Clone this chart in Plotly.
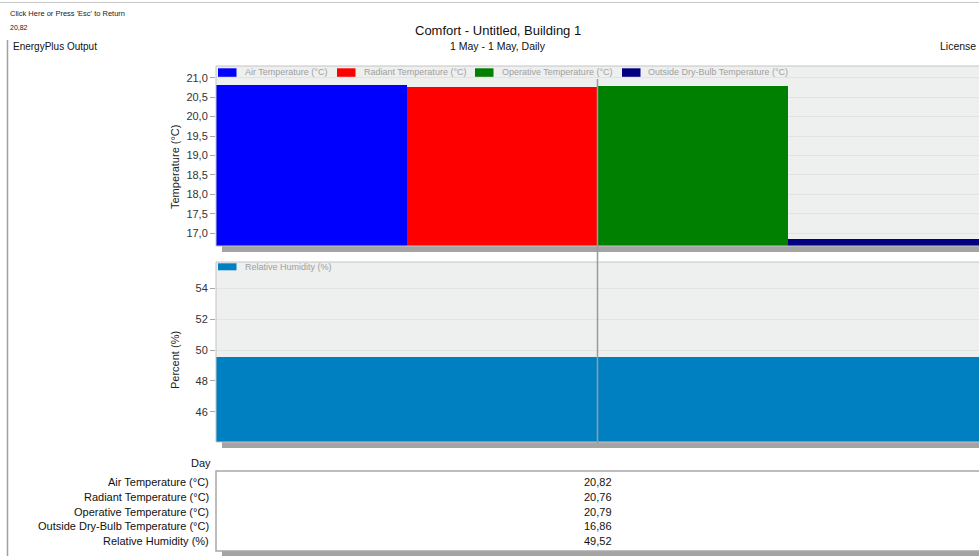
import plotly.graph_objects as go

# ---- data ----
day = ["1 May"]
temp_series = ["Air Temperature (°C)", "Radiant Temperature (°C)",
               "Operative Temperature (°C)", "Outside Dry-Bulb Temperature (°C)"]
temp_values = [20.82, 20.76, 20.79, 16.86]
temp_colors = ["#0000FF", "#FF0000", "#008000", "#000080"]
rh_series = "Relative Humidity (%)"
rh_values = [49.52]
rh_color = "#0080C0"
temp_ticks = [17.0, 17.5, 18.0, 18.5, 19.0, 19.5, 20.0, 20.5, 21.0]
rh_ticks = [46, 48, 50, 52, 54]

W, H = 979, 556
FONT = "Liberation Sans, Arial, sans-serif"


def fx(x):
    return x / W


def fy(y):
    return 1 - y / H


fig = go.Figure()

for name, val, col in zip(temp_series, temp_values, temp_colors):
    fig.add_trace(go.Bar(x=day, y=[val], name=name, marker=dict(color=col, line=dict(width=0)),
                         xaxis="x", yaxis="y", showlegend=False))

fig.add_trace(go.Bar(x=day, y=rh_values, name=rh_series, marker=dict(color=rh_color, line=dict(width=0)),
                     xaxis="x2", yaxis="y2", showlegend=False))

plot_left, plot_right = 216, 979
top_panel = (66, 246)
bot_panel = (262, 442)

axis_common = dict(showgrid=True, gridcolor="#E2E4E4", gridwidth=1, zeroline=False,
                   ticks="outside", ticklen=5, tickcolor="#A8A8A8",
                   tickfont=dict(family=FONT, size=11, color="#333333"),
                   showline=False)

fig.update_layout(
    width=W, height=H,
    margin=dict(l=0, r=0, t=0, b=0),
    paper_bgcolor="white",
    plot_bgcolor="#EEEFEF",
    separators=",.",
    barmode="group", bargap=0, bargroupgap=0,
    font=dict(family=FONT, color="#222222"),
    xaxis=dict(domain=[fx(plot_left), fx(plot_right)], anchor="y", type="category",
               range=[-0.5, 0.5], showticklabels=False, showgrid=False, zeroline=False, ticks=""),
    yaxis=dict(domain=[fy(top_panel[1]), fy(top_panel[0])], anchor="x",
               range=[16.674, 21.30], tickvals=temp_ticks, tickformat=".1f", **axis_common),
    xaxis2=dict(domain=[fx(plot_left), fx(plot_right)], anchor="y2", type="category",
                range=[-0.5, 0.5], showticklabels=False, showgrid=False, zeroline=False, ticks=""),
    yaxis2=dict(domain=[fy(bot_panel[1]), fy(bot_panel[0])], anchor="x2",
                range=[44.035, 55.71], tickvals=rh_ticks, tickformat="d", **axis_common),
)

shapes = []
annotations = []


def rect(x0, y0, x1, y1, fill=None, line=None, lw=1, layer="above"):
    shapes.append(dict(type="rect", xref="paper", yref="paper",
                       x0=fx(x0), x1=fx(x1), y0=fy(y1), y1=fy(y0),
                       fillcolor=fill if fill else "rgba(0,0,0,0)",
                       line=dict(color=line if line else "rgba(0,0,0,0)", width=lw if line else 0),
                       layer=layer))


def hline(x0, x1, y, color, lw=1):
    shapes.append(dict(type="line", xref="paper", yref="paper",
                       x0=fx(x0), x1=fx(x1), y0=fy(y), y1=fy(y),
                       line=dict(color=color, width=lw)))


def vline(x, y0, y1, color, lw=1):
    shapes.append(dict(type="line", xref="paper", yref="paper",
                       x0=fx(x), x1=fx(x), y0=fy(y0), y1=fy(y1),
                       line=dict(color=color, width=lw)))


def text(x, y, s, size=11, color="#222222", xanchor="left", textangle=0):
    annotations.append(dict(xref="paper", yref="paper", x=fx(x), y=fy(y), text=s,
                            showarrow=False, xanchor=xanchor, yanchor="middle",
                            textangle=textangle,
                            font=dict(family=FONT, size=size, color=color)))


# window chrome
hline(0, W, 2.5, "#C8C8C8", 1)
vline(7.5, 40, H, "#A0A0A0", 1.5)

# header texts
text(8, 14, "Click Here or Press 'Esc' to Return", size=7.5, color="#222222")
text(8, 27, "20,82", size=7, color="#222222")
text(11, 46, "EnergyPlus Output", size=10, color="#111111")
text(498, 31, "Comfort - Untitled, Building 1", size=13, color="#111111", xanchor="center")
text(498, 46, "1 May - 1 May, Daily", size=10.5, color="#111111", xanchor="center")
text(978, 46, "License", size=10.5, color="#111111", xanchor="right")

# panel frames and drop shadows
for (t, b) in (top_panel, bot_panel):
    rect(222, b, 985, b + 6, fill="#A4A4A4", layer="below")
    rect(plot_left, t, 990, b, line="#C4C4C4", lw=1)

# legends inside the panels
legend_top = [(218, 243), (337, 362), (475, 500), (622, 646)]
for (rx, tx), name, col in zip(legend_top, temp_series, temp_colors):
    rect(rx, 68.3, rx + 18.5, 76.8, fill=col)
    text(tx, 72.5, name, size=9, color="#A0A0A0")
rect(218, 263.3, 236.5, 270.3, fill=rh_color)
text(243, 266.8, rh_series, size=9, color="#A0A0A0")

# cursor line across both panels
vline((plot_left + plot_right) / 2, 79, 443, "#9A9A9A", 1.5)

# axis titles
text(175, 167, "Temperature (°C)", size=11, color="#222222", xanchor="center", textangle=-90)
text(175, 360, "Percent (%)", size=11, color="#222222", xanchor="center", textangle=-90)

# value table
text(213, 463, "Day", size=11, color="#111111", xanchor="right")
rect(222, 551, 985, 557, fill="#A4A4A4", layer="below")
rect(plot_left, 471, 990, 551, fill="white", line="#A8A8A8", lw=1.5, layer="below")
row_labels = temp_series + [rh_series]
row_values = temp_values + rh_values
row_y = [482, 497, 511.5, 526, 541]
for lab, val, y in zip(row_labels, row_values, row_y):
    text(211, y, lab, size=11, color="#111111", xanchor="right")
    text(597.5, y, f"{val:.2f}".replace(".", ","), size=11, color="#111111", xanchor="center")

fig.update_layout(shapes=shapes, annotations=annotations)
fig.write_html("out.html")
